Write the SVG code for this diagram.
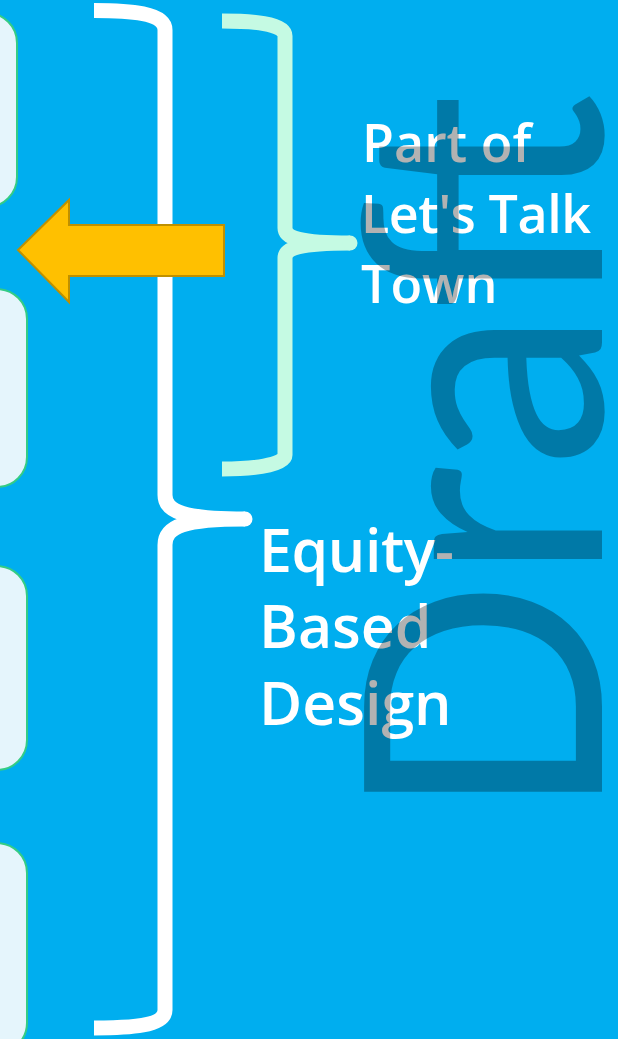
<svg xmlns="http://www.w3.org/2000/svg" width="618" height="1039" viewBox="0 0 618 1039">
<style>
.box{fill:#E5F5FC;stroke:#35CC85;stroke-width:2}
.lbl{font-family:"Open Sans","Liberation Sans",sans-serif;font-weight:600;fill:#FFFFFF}
</style>
<rect x="0" y="0" width="618" height="1039" fill="#00AEEF"/>
<g id="box1"><rect class="box" x="-100" y="13" width="117" height="194" rx="30"/></g>
<g id="box2"><rect class="box" x="-100" y="289" width="127" height="198" rx="30"/></g>
<g id="box3"><rect class="box" x="-100" y="566" width="127" height="204" rx="30"/></g>
<g id="box4"><rect class="box" x="-100" y="843" width="127" height="210" rx="30"/></g>
<g id="connectors">
<path d="M94,10.5 C130,10.5 165,13 165,30 L165,495 C165,512 185,519 245,519 M245,519 C185,519 165,526 165,545 L165,1010 C165,1026 130,1028 94,1028" fill="none" stroke="#FFFFFF" stroke-width="15" stroke-linejoin="round"/>
<circle cx="245" cy="519" r="7.5" fill="#FFFFFF"/>
<path d="M222,21 C250,21 285,23 285,36 L285,228 C285,238 300,243 350,243 M350,243 C300,243 285,248 285,258 L285,455 C285,466 250,469 222,469" fill="none" stroke="#C5FAE3" stroke-width="15" stroke-linejoin="round"/>
<circle cx="350" cy="243" r="7.5" fill="#C5FAE3"/>
<path id="arrow" d="M18,250 L69,200 L69,225 L224,225 L224,276 L69,276 L69,302 Z" fill="#FFC000" stroke="#BF9000" stroke-width="2"/>
</g>
<g id="label-lets-talk">
<text class="lbl" x="362" y="162" font-size="52">Part of</text>
<text class="lbl" x="361" y="233" font-size="52" textLength="230">Let's Talk</text>
<text class="lbl" x="361" y="303" font-size="52">Town</text>
</g>
<g id="label-equity">
<text class="lbl" x="259" y="572" font-size="59" textLength="195">Equity-</text>
<text class="lbl" x="259" y="648" font-size="59">Based</text>
<text class="lbl" x="259" y="725" font-size="59">Design</text>
</g>
<g id="watermark">
<text transform="translate(602,821) rotate(-90)" x="0" y="0" font-family="Lato,'Open Sans',sans-serif" font-size="332" fill="#000000" fill-opacity="0.3" textLength="728" lengthAdjust="spacingAndGlyphs">Draft</text>
</g>
</svg>
